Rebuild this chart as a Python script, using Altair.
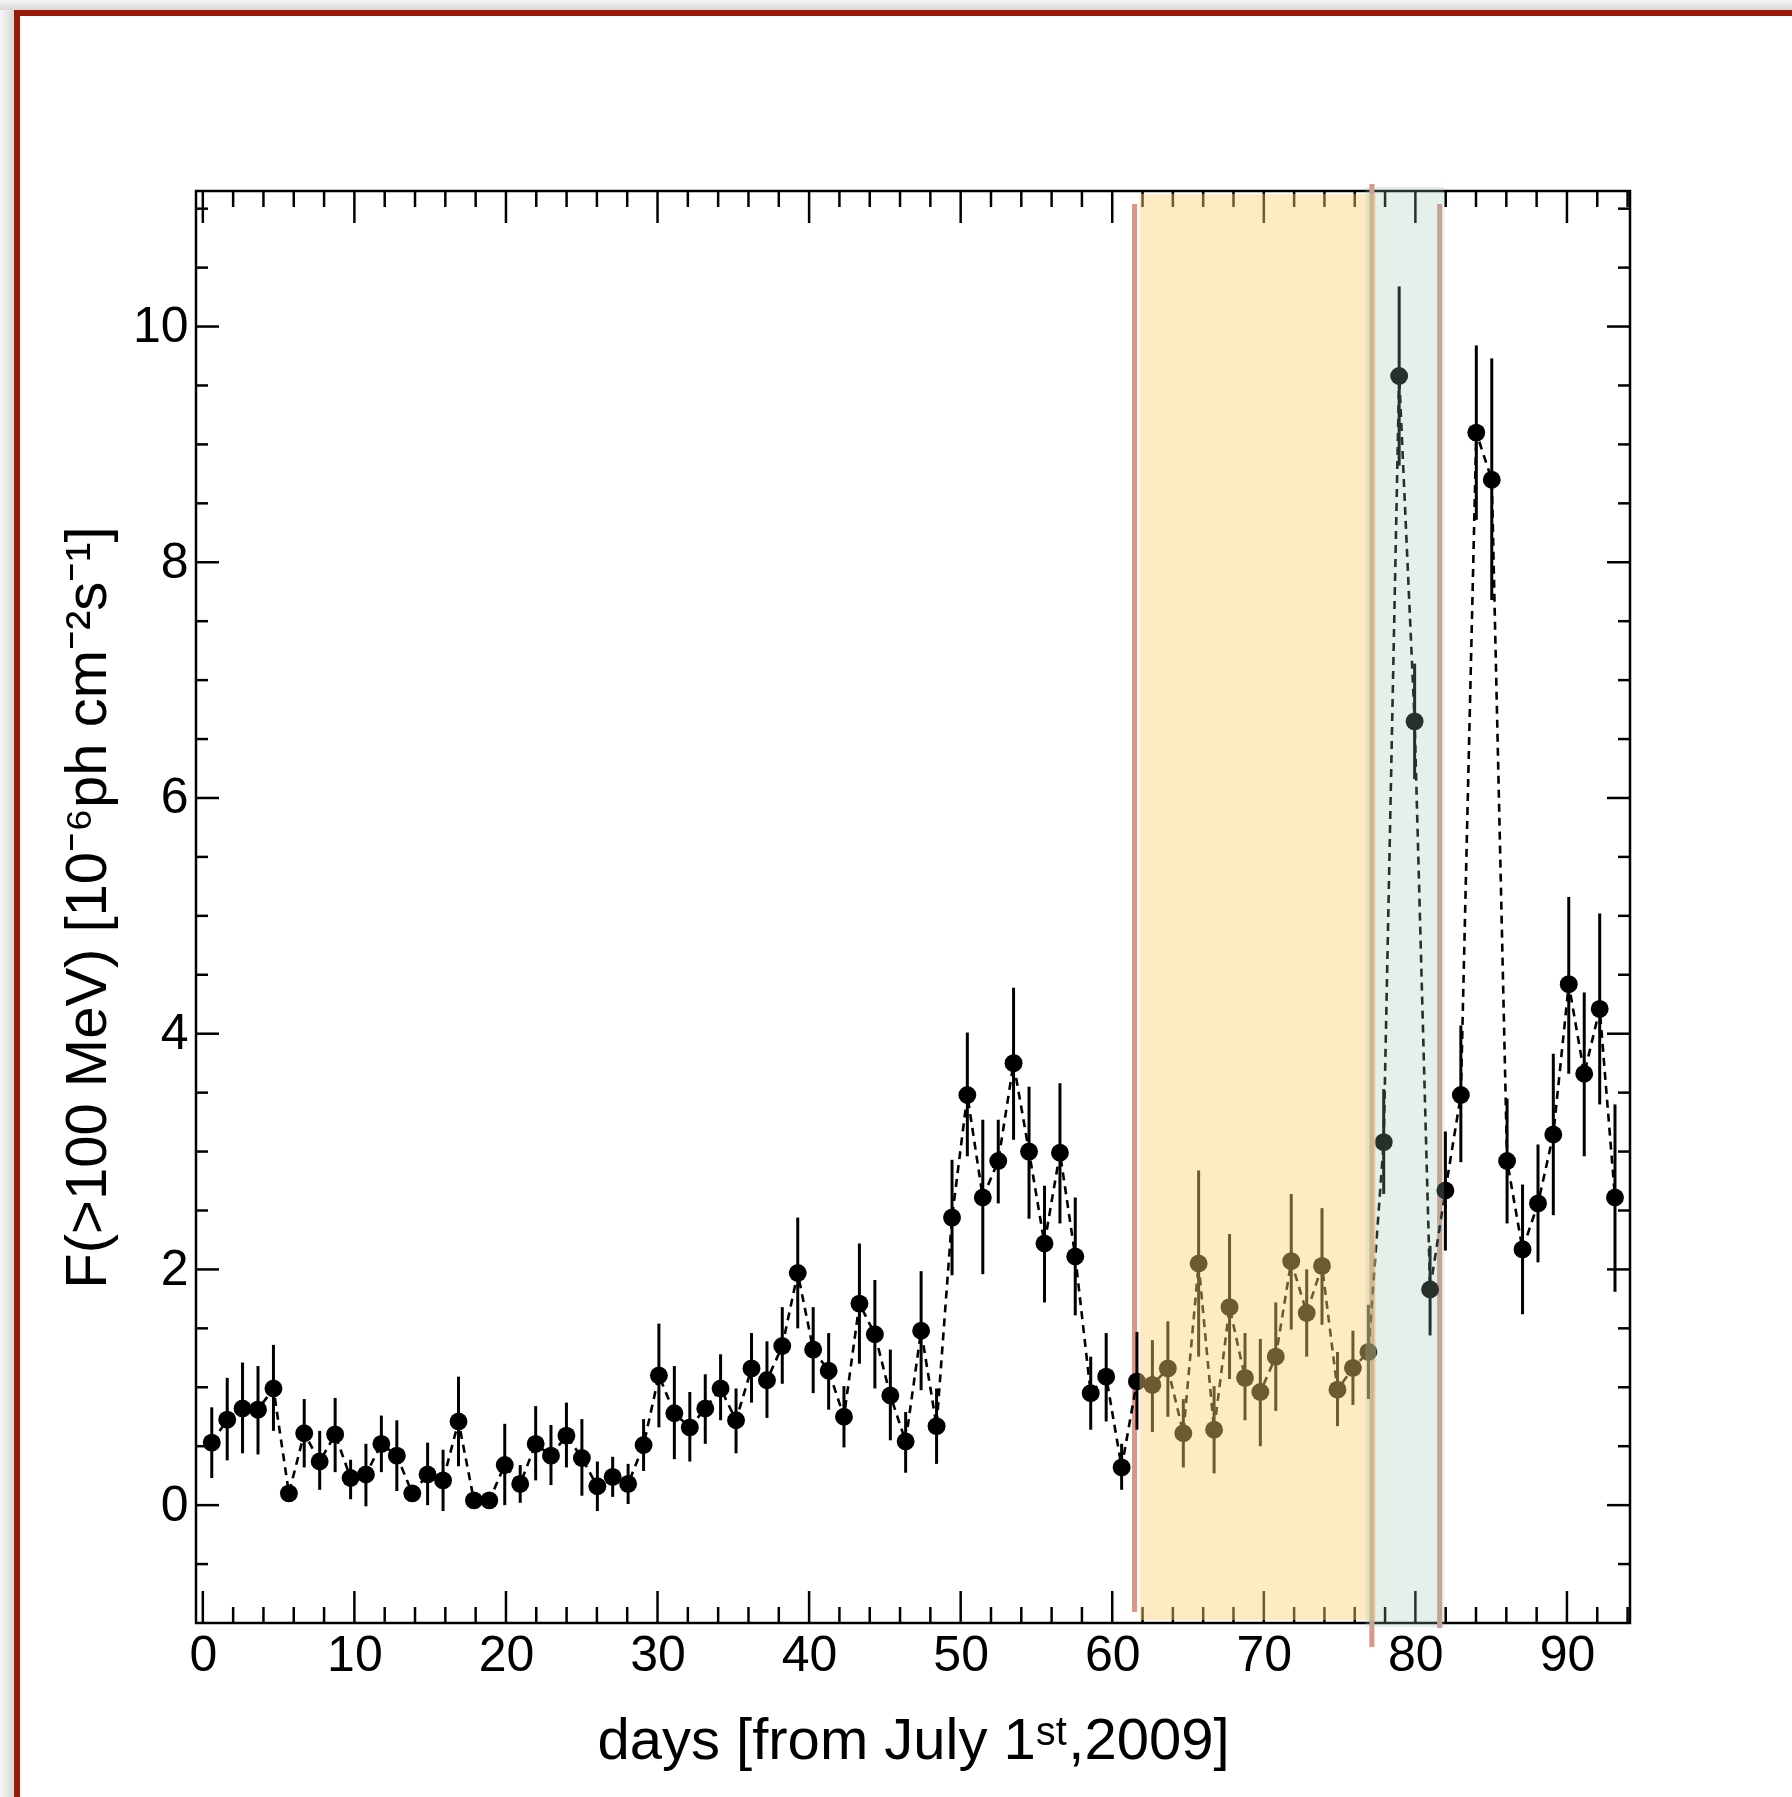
import altair as alt
import pandas as pd

# ---------------- data ----------------
days = [0.59, 1.61, 2.62, 3.64, 4.66, 5.68, 6.69, 7.71, 8.73, 9.75,
        10.76, 11.78, 12.80, 13.82, 14.83, 15.85, 16.87, 17.89, 18.90, 19.92,
        20.94, 21.96, 22.97, 23.99, 25.01, 26.03, 27.04, 28.06, 29.08, 30.09,
        31.11, 32.13, 33.15, 34.16, 35.18, 36.20, 37.22, 38.23, 39.25, 40.27,
        41.29, 42.30, 43.32, 44.34, 45.36, 46.37, 47.39, 48.41, 49.43, 50.44,
        51.46, 52.48, 53.49, 54.51, 55.53, 56.55, 57.56, 58.58, 59.60, 60.62,
        61.63, 62.65, 63.67, 64.69, 65.70, 66.72, 67.74, 68.76, 69.77, 70.79,
        71.81, 72.83, 73.84, 74.86, 75.88, 76.90, 77.91, 78.93, 79.95, 80.97,
        81.98, 83.00, 84.02, 85.04, 86.05, 87.07, 88.09, 89.10, 90.12, 91.14,
        92.16, 93.17]

flux = [0.53, 0.725, 0.82, 0.81, 0.99, 0.10, 0.61, 0.37, 0.60, 0.23,
        0.26, 0.52, 0.42, 0.10, 0.26, 0.21, 0.71, 0.04, 0.04, 0.34,
        0.18, 0.52, 0.42, 0.59, 0.40, 0.16, 0.24, 0.18, 0.51, 1.10,
        0.78, 0.66, 0.82, 0.99, 0.72, 1.16, 1.06, 1.35, 1.97, 1.32,
        1.14, 0.75, 1.71, 1.45, 0.93, 0.54, 1.48, 0.67, 2.44, 3.48,
        2.61, 2.92, 3.75, 3.00, 2.22, 2.99, 2.11, 0.95, 1.09, 0.32,
        1.05, 1.02, 1.16, 0.61, 2.05, 0.64, 1.68, 1.08, 0.96, 1.26,
        2.07, 1.63, 2.03, 0.98, 1.165, 1.30, 3.08, 9.58, 6.65, 1.83,
        2.67, 3.48, 9.10, 8.70, 2.92, 2.17, 2.56, 3.145, 4.42, 3.66,
        4.21, 2.61]

flux_lo = [0.23, 0.38, 0.44, 0.43, 0.63, 0.05, 0.32, 0.13, 0.28, 0.05,
           -0.01, 0.28, 0.12, 0.04, 0.00, -0.05, 0.33, 0.01, 0.01, 0.00,
           0.02, 0.21, 0.17, 0.32, 0.08, -0.05, 0.07, 0.01, 0.29, 0.66,
           0.39, 0.37, 0.52, 0.72, 0.44, 0.87, 0.74, 1.03, 1.50, 0.95,
           0.81, 0.49, 1.20, 0.99, 0.55, 0.275, 0.975, 0.35, 1.95, 2.96,
           1.96, 2.56, 3.10, 2.43, 1.72, 2.39, 1.61, 0.64, 0.71, 0.13,
           0.64, 0.62, 0.75, 0.32, 1.26, 0.27, 1.07, 0.72, 0.50, 0.80,
           1.49, 1.26, 1.53, 0.67, 0.85, 0.90, 2.64, 8.82, 6.16, 1.44,
           2.16, 2.91, 8.36, 7.68, 2.39, 1.62, 2.06, 2.46, 3.66, 2.96,
           3.40, 1.81]

flux_hi = [0.83, 1.08, 1.21, 1.18, 1.36, 0.15, 0.90, 0.63, 0.91, 0.385,
           0.52, 0.76, 0.72, 0.16, 0.53, 0.47, 1.09, 0.08, 0.08, 0.69,
           0.34, 0.84, 0.68, 0.87, 0.73, 0.37, 0.41, 0.35, 0.73, 1.54,
           1.18, 0.96, 1.11, 1.28, 0.99, 1.46, 1.39, 1.68, 2.44, 1.68,
           1.46, 1.01, 2.22, 1.91, 1.32, 0.79, 1.985, 0.99, 2.93, 4.01,
           3.27, 3.27, 4.39, 3.55, 2.71, 3.58, 2.61, 1.26, 1.46, 0.52,
           1.47, 1.40, 1.56, 0.90, 2.84, 1.01, 2.30, 1.46, 1.41, 1.72,
           2.64, 2.00, 2.52, 1.30, 1.48, 1.70, 3.53, 10.34, 7.14, 2.20,
           3.17, 4.07, 9.84, 9.73, 3.45, 2.72, 3.06, 3.83, 5.16, 4.35,
           5.02, 3.40]

x_major_ticks = [0, 10, 20, 30, 40, 50, 60, 70, 80, 90]
x_minor_ticks = [2, 4, 6, 8, 12, 14, 16, 18, 22, 24, 26, 28, 32, 34, 36, 38,
                 42, 44, 46, 48, 52, 54, 56, 58, 62, 64, 66, 68, 72, 74, 76, 78,
                 82, 84, 86, 88, 92, 94]
y_major_ticks = [0, 2, 4, 6, 8, 10]
y_minor_ticks = [-0.5, 0.5, 1, 1.5, 2.5, 3, 3.5, 4.5, 5, 5.5, 6.5, 7, 7.5,
                 8.5, 9, 9.5, 10.5, 11]

orange_band = [61.8, 77.4]
green_band = [76.7, 81.9]
left_marker = [61.47]
middle_marker = [77.13]
right_marker = [81.6]

# ---------------- layout ----------------
W, H = 1434, 1432
PAD = {"left": 196, "top": 191, "right": 162, "bottom": 174}
xs = alt.Scale(domain=[-0.45, 94.16], nice=False, zero=False)
ys = alt.Scale(domain=[-1.0, 11.15], nice=False, zero=False)
FONT = "Liberation Sans"

df = pd.DataFrame({"day": days, "flux": flux, "lo": flux_lo, "hi": flux_hi})
one = pd.DataFrame({"k": [0]})


def xq(field):
    return alt.X(field, type="quantitative", scale=xs, axis=None)


def yq(field):
    return alt.Y(field, type="quantitative", scale=ys, axis=None)


# window frame decoration (screenshot border)
shadow_top = alt.Chart(one).mark_rect(
    color=alt.LinearGradient(gradient="linear", x1=0, y1=0, x2=0, y2=1,
                             stops=[alt.GradientStop(color="#f6f6f6", offset=0),
                                    alt.GradientStop(color="#d8d8d8", offset=1)])
).encode(x=alt.value(-196), x2=alt.value(1596), y=alt.value(-191), y2=alt.value(-181))
shadow_left = alt.Chart(one).mark_rect(
    color=alt.LinearGradient(gradient="linear", x1=0, y1=0, x2=1, y2=0,
                             stops=[alt.GradientStop(color="#f6f6f6", offset=0),
                                    alt.GradientStop(color="#d8d8d8", offset=1)])
).encode(x=alt.value(-196), x2=alt.value(-182), y=alt.value(-181), y2=alt.value(1606))
border_top = alt.Chart(one).mark_rule(color="#9b1a08", strokeWidth=6).encode(
    x=alt.value(-182), x2=alt.value(1596), y=alt.value(-178))
border_left = alt.Chart(one).mark_rule(color="#9b1a08", strokeWidth=6).encode(
    x=alt.value(-179), y=alt.value(-181), y2=alt.value(1606))

RED = "#d8968c"
line_left = alt.Chart(pd.DataFrame({"d": left_marker})).mark_rule(
    color=RED, strokeWidth=5).encode(x=xq("d"), y=alt.value(13), y2=alt.value(1421))
line_mid = alt.Chart(pd.DataFrame({"d": middle_marker})).mark_rule(
    color=RED, strokeWidth=5).encode(x=xq("d"), y=alt.value(-7), y2=alt.value(1456))
line_right = alt.Chart(pd.DataFrame({"d": right_marker})).mark_rule(
    color=RED, strokeWidth=5).encode(x=xq("d"), y=alt.value(13), y2=alt.value(1437))

errbars = alt.Chart(df).mark_rule(color="black", strokeWidth=3).encode(
    x=xq("day"), y=yq("lo"), y2="hi")

dashed = alt.Chart(df).mark_line(color="black", strokeWidth=2.6, strokeDash=[8, 6]).encode(
    x=xq("day"), y=yq("flux"), order="day:Q")

points = alt.Chart(df).mark_circle(size=320, color="black", opacity=1).encode(
    x=alt.X("day:Q", scale=xs,
            axis=alt.Axis(values=x_major_ticks, format="d", ticks=False, tickSize=0,
                          domain=False, grid=False, labelFont=FONT, labelFontSize=50,
                          labelColor="black", labelPadding=7, labelFlush=False,
                          labelOverlap=False,
                          title="days [from July 1\u02e2\u1d57,2009]",
                          titleFont=FONT, titleFontSize=58, titleFontWeight="normal",
                          titleColor="black", titleX=717, titleY=135,
                          titleAlign="center", titleBaseline="alphabetic")),
    y=alt.Y("flux:Q", scale=ys,
            axis=alt.Axis(values=y_major_ticks, format="d", ticks=False, tickSize=0,
                          domain=False, grid=False, labelFont=FONT, labelFontSize=50,
                          labelColor="black", labelPadding=8, labelFlush=False,
                          labelOverlap=False,
                          title="F(>100 MeV) [10\u207b\u2076ph cm\u207b\u00b2s\u207b\u00b9]",
                          titleFont=FONT, titleFontSize=58, titleFontWeight="normal",
                          titleColor="black", titleX=-91, titleY=716, titleAngle=270,
                          titleAlign="center", titleBaseline="alphabetic")),
)

TK = dict(color="black", strokeWidth=2.5)
xmaj = pd.DataFrame({"t": x_major_ticks})
xmin = pd.DataFrame({"t": x_minor_ticks})
ymaj = pd.DataFrame({"t": y_major_ticks})
ymin = pd.DataFrame({"t": y_minor_ticks})

ticks = [
    alt.Chart(xmaj).mark_rule(**TK).encode(x=xq("t"), y=alt.value(H), y2=alt.value(H - 32)),
    alt.Chart(xmin).mark_rule(**TK).encode(x=xq("t"), y=alt.value(H), y2=alt.value(H - 16)),
    alt.Chart(xmaj).mark_rule(**TK).encode(x=xq("t"), y=alt.value(0), y2=alt.value(32)),
    alt.Chart(xmin).mark_rule(**TK).encode(x=xq("t"), y=alt.value(0), y2=alt.value(16)),
    alt.Chart(ymaj).mark_rule(**TK).encode(y=yq("t"), x=alt.value(0), x2=alt.value(23)),
    alt.Chart(ymin).mark_rule(**TK).encode(y=yq("t"), x=alt.value(0), x2=alt.value(12)),
    alt.Chart(ymaj).mark_rule(**TK).encode(y=yq("t"), x=alt.value(W), x2=alt.value(W - 23)),
    alt.Chart(ymin).mark_rule(**TK).encode(y=yq("t"), x=alt.value(W), x2=alt.value(W - 12)),
]

band_o = alt.Chart(pd.DataFrame({"a": [orange_band[0]], "b": [orange_band[1]]})).mark_rect(
    color="#ffd174", opacity=0.43).encode(x=xq("a"), x2="b", y=alt.value(3), y2=alt.value(1429))
band_g = alt.Chart(pd.DataFrame({"a": [green_band[0]], "b": [green_band[1]]})).mark_rect(
    color="#9dc4b0", opacity=0.25).encode(x=xq("a"), x2="b", y=alt.value(-4), y2=alt.value(1436))

chart = alt.layer(
    shadow_top, shadow_left, border_top, border_left,
    line_left, line_mid, line_right,
    errbars, dashed, points,
    *ticks,
    band_o, band_g,
).resolve_axis(
    x="independent", y="independent"
).properties(
    width=W, height=H, padding=PAD, autosize="none", background="white"
).configure_view(
    stroke="black", strokeWidth=2.5, fill="white"
)

chart.save("out.html", embed_options={"renderer": "svg", "actions": False})
